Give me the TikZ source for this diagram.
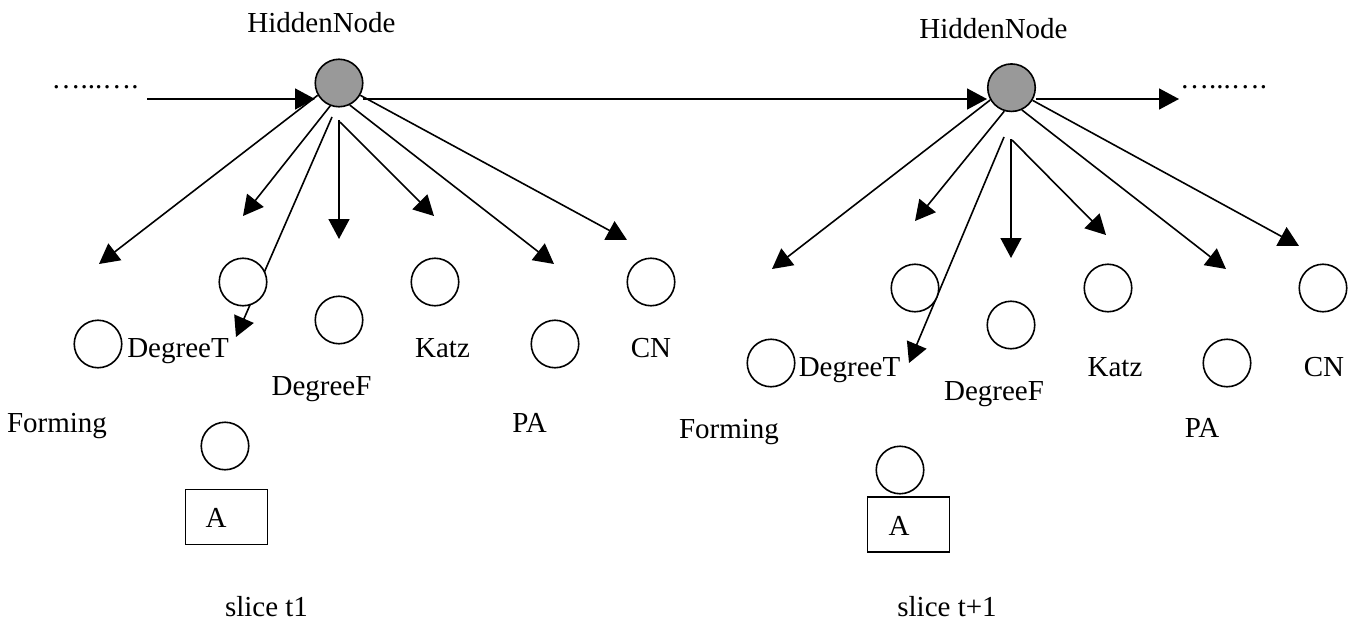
\documentclass[tikz,border=0pt]{standalone}
\usepackage{fontspec}
\setmainfont{Liberation Serif}
\usetikzlibrary{arrows.meta}
\pgfdeclarelayer{bg}
\pgfsetlayers{bg,main}
\begin{document}
\begin{tikzpicture}[x=1pt,y=-1pt,
  every node/.style={font=\fontsize{29}{34}\selectfont},
  txt/.style={anchor=base, inner sep=0pt},
  obs/.style={circle, draw, line width=1.6pt, minimum size=47.5pt, inner sep=0pt, fill=white},
  hid/.style={obs, fill=black!40},
  abox/.style={draw, line width=1.4pt, minimum width=82pt, minimum height=55pt, inner sep=0pt},
  arr/.style={line width=1.6pt, -{Triangle[length=20pt,width=21pt]}},
  ln/.style={line width=1.6pt}]
\useasboundingbox (0,0) rectangle (1354,623);

% ---------- slice t1 ----------
\node[hid] (hL) at (339,83) {};
\node[obs] (tL) at (243,282) {};
\node[obs] (fL) at (339,320) {};
\node[obs] (kL) at (435,282) {};
\node[obs] (cL) at (651,282) {};
\node[obs] (oL) at (98,344) {};
\node[obs] (pL) at (555,344) {};
\node[obs] (aL) at (225,446) {};
\node[abox] (bL) at (226.5,517) {};

\node[txt] (hLt) at (321.5,33) {HiddenNode};
\node[txt] (dotsL) at (95,89) {…...….};
\node[txt] (degTL) at (178,357) {DegreeT};
\node[txt] (degFL) at (321.5,395) {DegreeF};
\node[txt] (katzL) at (442.5,357) {Katz};
\node[txt] (cnL) at (651,357) {CN};
\node[txt] (formL) at (57,432) {Forming};
\node[txt] (paL) at (529.5,432) {PA};
\node[txt] (aLt) at (216,527) {A};
\node[txt] (sliceL) at (266.5,616) {slice t1};

% ---------- slice t+1 ----------
\node[hid] (hR) at (1011.5,87.7) {};
\node[obs] (tR) at (915,288) {};
\node[obs] (fR) at (1011,325) {};
\node[obs] (kR) at (1108,288) {};
\node[obs] (cR) at (1323,288) {};
\node[obs] (oR) at (771,363) {};
\node[obs] (pR) at (1227,363) {};
\node[obs] (aR) at (900,470) {};
\node[abox] (bR) at (908.5,524.5) {};

\node[txt] (hRt) at (993.5,39) {HiddenNode};
\node[txt] (dotsR) at (1223.5,89) {…...….};
\node[txt] (degTR) at (849.5,376) {DegreeT};
\node[txt] (degFR) at (994,400) {DegreeF};
\node[txt] (katzR) at (1115,376) {Katz};
\node[txt] (cnR) at (1324,376) {CN};
\node[txt] (formR) at (729,438) {Forming};
\node[txt] (paR) at (1202,437) {PA};
\node[txt] (aRt) at (899,535) {A};
\node[txt] (sliceR) at (947,616) {slice t+1};

% ---------- free ends ----------
\coordinate (inS) at (147,99);
\coordinate (inE) at (315,99);
\coordinate (mS) at (363,99);
\coordinate (mE) at (987,99);
\coordinate (outS) at (1036,99);
\coordinate (outE) at (1179,99);

\coordinate (L3) at (99,264);
\coordinate (L4) at (243,216);
\coordinate (L5s) at (332,117);
\coordinate (L5) at (236,337);
\coordinate (L6s) at (339,120);
\coordinate (L6) at (339,239);
\coordinate (L7s) at (340,122);
\coordinate (L7) at (434,216);
\coordinate (L8) at (554,264);
\coordinate (L9) at (627,240);

\coordinate (R3) at (772,269);
\coordinate (R4) at (915,221);
\coordinate (R5s) at (1004,137);
\coordinate (R5) at (909,363);
\coordinate (R6s) at (1011,139);
\coordinate (R6) at (1011,258);
\coordinate (R7s) at (1012,140);
\coordinate (R7) at (1106,235);
\coordinate (R8) at (1226,269);
\coordinate (R9) at (1299,246);

\begin{pgfonlayer}{bg}
\draw[arr] (inS) -- (inE);
\draw[arr] (mS) -- (mE);
\draw[arr] (outS) -- (outE);

\draw[arr] (hL.210) -- (L3);
\draw[arr] (hL.249) -- (L4);
\draw[arr] (L5s) -- (L5);
\draw[arr] (L6s) -- (L6);
\draw[arr] (L7s) -- (L7);
\draw[arr] (hL.296) -- (L8);
\draw[arr] (hL.330) -- (L9);

\draw[arr] (hR.210) -- (R3);
\draw[arr] (hR.253) -- (R4);
\draw[arr] (R5s) -- (R5);
\draw[arr] (R6s) -- (R6);
\draw[arr] (R7s) -- (R7);
\draw[arr] (hR.295) -- (R8);
\draw[arr] (hR.329) -- (R9);
\end{pgfonlayer}
\end{tikzpicture}
\end{document}
